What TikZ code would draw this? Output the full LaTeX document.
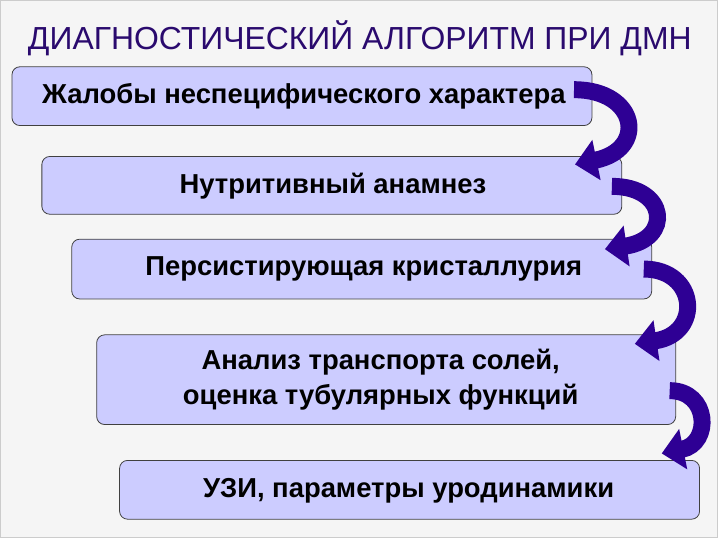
\documentclass[tikz,border=0pt]{standalone}
\usepackage{fontspec}
\setmainfont{Liberation Sans}
\usetikzlibrary{arrows.meta}
\definecolor{boxfill}{HTML}{CCCCFF}
\definecolor{titlec}{HTML}{2A0A6E}
\definecolor{arrc}{HTML}{2E0094}
\tikzset{
 stepbox/.style={draw=black!75,fill=boxfill,rounded corners=8pt,line width=0.8pt},
 lbl/.style={font=\bfseries\fontsize{27.5}{35}\selectfont,align=center},
 bendarrow/.style={draw=arrc,line width=17pt,-{Triangle[width=40pt,length=22pt]}}
}
\begin{document}
\begin{tikzpicture}[x=1pt,y=-1pt]
\fill[gray!8] (0,0) rectangle (720,540);
\draw[gray!40,line width=0.8pt] (0.5,0.5) rectangle (719.5,539.5);
\node[text=titlec,font=\fontsize{32}{36}\selectfont,anchor=center] (title) at (361,38) {ДИАГНОСТИЧЕСКИЙ АЛГОРИТМ ПРИ ДМН};
\draw[stepbox] (12,67) rectangle (594,126); \node[lbl] (b1) at (305,97) {Жалобы неспецифического характера};
\draw[stepbox] (42,157) rectangle (624,215); \node[lbl] (b2) at (334,187) {Нутритивный анамнез};
\draw[stepbox] (72,240) rectangle (654,300); \node[lbl] (b3) at (365,270) {Персистирующая кристаллурия};
\draw[stepbox] (97,336) rectangle (678,426); \node[lbl] (b4) at (382,381) {Анализ транспорта солей,\\оценка тубулярных функций};
\draw[stepbox] (120,462) rectangle (702,521); \node[lbl] (b5) at (410,492) {УЗИ, параметры уродинамики};
\coordinate (s1) at (576,90); \coordinate (t1) at (577,165);
\coordinate (s2) at (614,187); \coordinate (t2) at (607,250);
\coordinate (s3) at (646,270); \coordinate (t3) at (637,345);
\coordinate (s4) at (672,392); \coordinate (t4) at (664,455);
\draw[bendarrow] (s1) .. controls (640,90) and (650,150) .. (t1);
\draw[bendarrow] (s2) .. controls (670,187) and (675,240) .. (t2);
\draw[bendarrow] (s3) .. controls (700,270) and (705,335) .. (t3);
\draw[bendarrow] (s4) .. controls (712,392) and (714,445) .. (t4);
\end{tikzpicture}
\end{document}
